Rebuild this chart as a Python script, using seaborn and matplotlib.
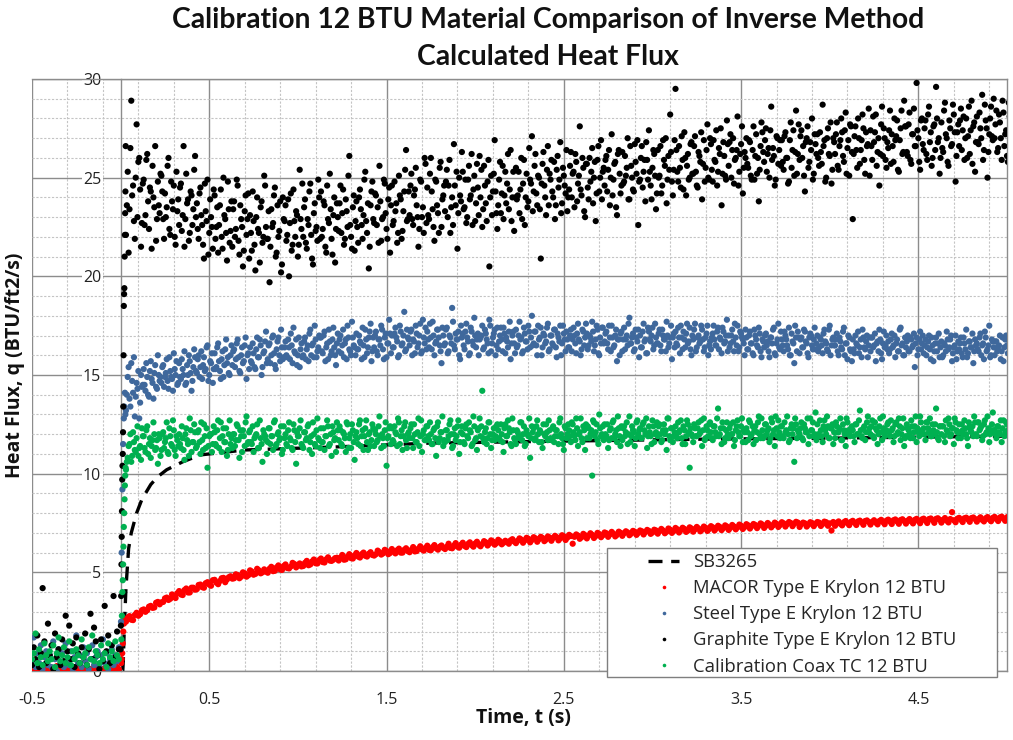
import numpy as np
import pandas as pd
import matplotlib
matplotlib.use("Agg")
import matplotlib.pyplot as plt
from matplotlib.lines import Line2D
from matplotlib.patches import Rectangle
from matplotlib.ticker import FixedLocator, MultipleLocator
import seaborn as sns

# ---------------- data ----------------
series_names = ["MACOR Type E Krylon 12 BTU", "Steel Type E Krylon 12 BTU",
                "Graphite Type E Krylon 12 BTU", "Calibration Coax TC 12 BTU"]
series_colors = ["#FF0000", "#3F689C", "#000000", "#00B050"]

# sampling of the recorded traces (s)
pre_start, pre_step = -0.50, 0.01
post_start = 0.03          # first record of every gauge
post_start_b = 0.035       # second interleaved record (steel, graphite, coax)
post_start_red_b = 0.04    # second interleaved record (MACOR)
post_step_fine = 0.01      # steel, graphite, coax
post_step_red = 0.02       # MACOR

# pre-trigger values
macor_pre = [0.05, 0.12, 0.02, 0.18, 0.08, 0.00, 0.15, 0.06, 0.22, 0.03,
             0.10, 0.01, 0.14, 0.07, 0.25, 0.04, 0.11, 0.02, 0.16, 0.08,
             0.00, 0.13, 0.05, 0.20, 0.09, 0.03, 0.17, 0.06, 0.12, 0.01,
             0.08, 0.19, 0.04, 0.10, 0.02, 0.15, 0.07, 0.23, 0.05, 0.11,
             0.03, 0.14, 0.08, 0.01, 0.18, 0.06, 0.12, 0.04, 0.20, 0.09]
steel_pre = [0.5, 1.7, 0.2, 0.9, 0.4, 1.3, 0.1, 0.7, 1.0, 0.3,
             0.8, 0.2, 1.5, 0.6, 0.0, 1.1, 0.4, 0.9, 0.2, 1.4,
             0.6, 0.3, 1.0, 0.1, 0.7, 1.8, 0.4, 0.8, 0.2, 1.2,
             0.5, 0.9, 0.1, 0.6, 1.3, 0.3, 0.7, 1.0, 0.2, 0.8,
             1.6, 0.4, 0.9, 0.1, 0.6, 1.1, 0.3, 0.8, 0.5, 1.2]
graphite_pre = [0.3, 1.2, 0.6, 1.8, 0.2, 0.9, 4.2, 1.5, 0.4, 2.4,
                0.8, 1.3, 0.1, 1.9, 0.7, 1.1, 0.3, 1.6, 0.5, 2.8,
                1.0, 2.3, 0.6, 1.4, 0.2, 1.7, 0.9, 0.4, 1.2, 0.7,
                1.9, 0.3, 1.1, 2.9, 0.6, 2.2, 1.5, 0.8, 0.1, 1.6,
                0.5, 3.3, 1.0, 1.8, 0.4, 1.3, 3.8, 0.7, 2.0, 1.1]
coax_pre = [0.6, 0.9, 1.9, 0.4, 1.1, 0.7, 0.3, 1.4, 0.8, 0.5,
            1.0, 0.6, 1.3, 0.2, 0.9, 1.7, 0.5, 0.8, 1.2, 0.4,
            0.7, 1.5, 0.3, 1.0, 0.6, 1.1, 0.8, 0.4, 1.6, 0.7,
            0.9, 0.3, 1.2, 0.6, 1.8, 0.5, 1.0, 0.8, 0.4, 1.3,
            0.6, 0.9, 0.2, 1.4, 0.7, 1.0, 0.5, 1.5, 0.8, 0.6]

# step-rise points (time, value)
macor_rise_t = [0.003, 0.006, 0.009, 0.012, 0.015, 0.018, 0.021]
macor_rise = [0.4, 0.6, 0.9, 1.4, 2.0, 2.4, 2.6]
steel_rise_t = [0.002, 0.006, 0.010, 0.014, 0.018, 0.021, 0.024, 0.027]
steel_rise = [2.5, 6.0, 9.2, 11.5, 12.8, 13.4, 14.1, 13.0]
graphite_rise_t = [0.000, 0.0015, 0.003, 0.0045, 0.006, 0.0075, 0.009, 0.0105,
                   0.012, 0.0135, 0.015, 0.0165, 0.018, 0.0195, 0.021, 0.0225,
                   0.024, 0.0255, 0.027, 0.0285]
graphite_rise = [1.1, 2.3, 3.8, 5.4, 6.8, 8.1, 9.7, 10.4, 11.0, 12.1,
                 13.4, 16.0, 18.5, 19.1, 19.4, 21.0, 22.1, 23.2, 24.3, 26.6]
coax_rise_t = [0.004, 0.007, 0.010, 0.012, 0.014, 0.016, 0.018, 0.020,
               0.022, 0.024, 0.026, 0.028]
coax_rise = [1.6, 2.8, 4.0, 4.6, 5.4, 6.3, 7.3, 8.0, 8.7, 9.4, 9.9, 10.3]

# post-trigger values
macor_post = [
    2.50, 2.78, 2.58, 2.95, 2.88, 3.12, 3.08, 3.30, 3.22, 3.50,
    3.48, 3.68, 3.60, 3.88, 3.70, 4.05, 3.85, 4.18, 3.98, 4.22,
    4.15, 4.38, 4.22, 4.50, 4.32, 4.62, 4.40, 4.70, 4.50, 4.75,
    4.68, 4.90, 4.70, 5.00, 4.78, 5.10, 4.88, 5.18, 4.95, 5.15,
    4.98, 5.28, 5.08, 5.35, 5.12, 5.40, 5.20, 5.48, 5.25, 5.45,
    5.32, 5.58, 5.40, 5.65, 5.45, 5.70, 5.50, 5.76, 5.58, 5.72,
    5.60, 5.88, 5.66, 5.92, 5.70, 5.98, 5.75, 6.00, 5.80, 6.02,
    5.85, 6.10, 5.90, 6.14, 5.92, 6.18, 5.96, 6.20, 6.00, 6.22,
    6.02, 6.28, 6.08, 6.32, 6.10, 6.35, 6.12, 6.38, 6.15, 6.36,
    6.18, 6.45, 6.22, 6.48, 6.25, 6.50, 6.28, 6.52, 6.30, 6.55,
    6.32, 6.58, 6.36, 6.62, 6.40, 6.65, 6.42, 6.60, 6.45, 6.68,
    6.48, 6.72, 6.50, 6.75, 6.52, 6.78, 6.55, 6.80, 6.58, 6.82,
    6.60, 6.85, 6.62, 6.88, 6.64, 6.90, 6.45, 6.92, 6.70, 6.95,
    6.72, 6.98, 6.74, 7.00, 6.78, 7.02, 6.80, 7.05, 6.82, 7.06,
    6.85, 7.08, 6.88, 7.10, 6.90, 7.12, 6.92, 7.15, 6.95, 7.16,
    6.96, 7.20, 6.98, 7.22, 7.00, 7.25, 7.02, 7.26, 7.05, 7.28,
    7.06, 7.30, 7.08, 7.32, 7.10, 7.34, 7.12, 7.36, 7.14, 7.38,
    7.15, 7.40, 7.18, 7.42, 7.20, 7.44, 7.22, 7.45, 7.24, 7.48,
    7.25, 7.50, 7.28, 7.52, 7.30, 7.54, 7.32, 7.55, 7.34, 7.56,
    7.30, 7.52, 7.32, 7.54, 7.34, 7.55, 7.35, 7.57, 7.36, 7.12,
    7.36, 7.58, 7.38, 7.60, 7.39, 7.61, 7.40, 7.62, 7.41, 7.63,
    7.42, 7.64, 7.43, 7.66, 7.44, 7.67, 7.45, 7.68, 7.46, 7.69,
    7.47, 7.70, 7.48, 7.71, 7.49, 7.72, 7.50, 7.73, 7.51, 7.74,
    7.52, 7.75, 7.53, 8.05, 7.54, 7.76, 7.55, 7.77, 7.56, 7.78,
    7.57, 7.79, 7.58, 7.80, 7.59, 7.81, 7.60, 7.82, 7.61, 7.83]

macor_post_b = [
    2.70, 2.60, 2.84, 2.80, 3.08, 3.00, 3.26, 3.20, 3.46, 3.38,
    3.50, 3.72, 3.66, 3.76, 3.94, 3.88, 4.10, 3.98, 4.22, 4.12,
    4.36, 4.25, 4.45, 4.38, 4.60, 4.48, 4.56, 4.72, 4.64, 4.80,
    4.70, 4.86, 4.78, 4.95, 4.85, 5.04, 4.92, 5.10, 5.00, 5.04,
    5.18, 5.06, 5.25, 5.15, 5.32, 5.22, 5.30, 5.42, 5.36, 5.30,
    5.48, 5.36, 5.55, 5.46, 5.62, 5.52, 5.66, 5.60, 5.64, 5.74,
    5.74, 5.64, 5.80, 5.72, 5.86, 5.80, 5.92, 5.84, 5.94, 5.88,
    5.92, 6.02, 5.96, 6.08, 5.98, 6.06, 6.12, 6.00, 6.14, 6.08,
    6.14, 6.06, 6.20, 6.16, 6.24, 6.14, 6.28, 6.22, 6.30, 6.24,
    6.30, 6.24, 6.36, 6.30, 6.40, 6.34, 6.44, 6.38, 6.46, 6.40,
    6.44, 6.52, 6.46, 6.56, 6.48, 6.58, 6.50, 6.54, 6.62, 6.56,
    6.60, 6.66, 6.62, 6.70, 6.64, 6.72, 6.68, 6.74, 6.66, 6.76,
    6.74, 6.78, 6.72, 6.82, 6.76, 6.84, 6.80, 6.86, 6.78, 6.88,
    6.86, 6.90, 6.84, 6.94, 6.88, 6.98, 6.92, 6.96, 6.90, 7.00,
    6.98, 7.02, 6.96, 7.06, 7.00, 7.08, 7.04, 7.10, 7.02, 7.12,
    7.08, 7.12, 7.06, 7.16, 7.10, 7.18, 7.14, 7.20, 7.12, 7.22,
    7.18, 7.22, 7.16, 7.26, 7.20, 7.28, 7.22, 7.30, 7.24, 7.32,
    7.26, 7.32, 7.28, 7.36, 7.30, 7.38, 7.34, 7.40, 7.36, 7.42,
    7.36, 7.42, 7.38, 7.46, 7.40, 7.48, 7.44, 7.50, 7.46, 7.52,
    7.44, 7.48, 7.42, 7.50, 7.46, 7.52, 7.45, 7.54, 7.48, 7.55,
    7.50, 7.46, 7.54, 7.49, 7.56, 7.51, 7.58, 7.53, 7.60, 7.55,
    7.56, 7.52, 7.60, 7.55, 7.62, 7.57, 7.64, 7.58, 7.65, 7.60,
    7.62, 7.58, 7.66, 7.60, 7.68, 7.62, 7.70, 7.64, 7.71, 7.66,
    7.66, 7.62, 7.70, 7.64, 7.72, 7.66, 7.74, 7.68, 7.75, 7.70,
    7.70, 7.66, 7.74, 7.68, 7.76, 7.70, 7.78, 7.72, 7.79, 7.74]

steel_post = [
    13.2, 14.9, 13.8, 15.6, 14.1, 12.9, 14.6, 15.2, 13.6, 14.4,
    15.3, 14.2, 14.9, 13.9, 15.7, 14.6, 15.1, 14.4, 16.0, 14.7,
    14.6, 15.5, 14.9, 15.8, 14.3, 15.2, 14.8, 16.1, 15.0, 14.5,
    15.6, 14.8, 15.3, 16.2, 14.6, 15.0, 15.7, 14.2, 15.4, 15.9,
    15.1, 16.0, 15.4, 14.8, 15.9, 15.3, 16.5, 15.0, 15.6, 14.6,
    16.1, 15.4, 16.6, 15.2, 15.8, 14.9, 16.3, 15.6, 15.1, 16.0,
    15.5, 16.3, 15.8, 16.8, 15.2, 16.0, 15.6, 16.5, 14.8, 16.1,
    16.4, 15.6, 16.1, 15.3, 16.9, 15.9, 16.5, 15.4, 16.2, 17.2,
    15.8, 16.6, 16.0, 17.0, 15.5, 16.3, 16.9, 15.7, 16.4, 15.9,
    16.7, 15.9, 16.4, 17.1, 15.6, 16.2, 16.8, 16.0, 15.4, 16.6,
    16.0, 16.9, 16.3, 15.7, 17.3, 16.5, 15.9, 16.8, 16.2, 17.0,
    16.9, 16.1, 17.2, 16.4, 15.8, 16.7, 16.2, 17.4, 16.0, 16.6,
    16.2, 17.0, 16.5, 15.9, 16.8, 17.5, 16.3, 16.0, 16.9, 16.4,
    17.1, 16.3, 16.7, 15.8, 16.5, 17.3, 16.1, 16.9, 17.6, 16.2,
    16.4, 17.2, 16.0, 16.8, 17.5, 16.3, 16.9, 15.9, 16.6, 17.1,
    17.0, 16.4, 17.4, 16.7, 16.0, 17.2, 16.6, 18.2, 16.3, 16.9,
    16.5, 17.3, 16.8, 16.1, 17.1, 16.6, 17.6, 16.2, 16.9, 17.4,
    17.2, 16.4, 16.9, 17.7, 16.0, 16.7, 17.3, 16.5, 15.6, 17.0,
    16.6, 17.4, 16.2, 16.9, 18.4, 16.5, 17.1, 16.8, 16.0, 17.5,
    17.1, 16.3, 17.6, 16.7, 16.1, 17.2, 16.5, 17.0, 16.8, 16.0,
    16.9, 17.5, 16.4, 17.1, 16.6, 17.8, 16.2, 16.9, 17.3, 16.5,
    16.3, 17.0, 16.8, 17.4, 16.1, 16.7, 17.2, 15.8, 17.0, 16.6,
    17.3, 16.5, 17.7, 16.9, 16.2, 17.1, 16.7, 17.5, 16.4, 18.0,
    16.6, 17.2, 16.0, 16.8, 17.4, 16.4, 17.0, 16.7, 17.6, 16.3,
    17.0, 16.5, 17.3, 15.9, 16.9, 17.5, 16.6, 17.1, 16.2, 16.8,
    16.4, 17.3, 16.8, 17.0, 16.1, 17.6, 16.7, 16.3, 17.2, 16.9,
    17.1, 16.5, 16.9, 17.7, 16.2, 16.8, 17.3, 16.0, 16.6, 17.4,
    16.7, 17.2, 16.3, 16.9, 17.5, 16.4, 17.0, 15.7, 16.8, 17.1,
    16.2, 17.4, 16.8, 16.5, 17.9, 16.6, 17.1, 16.3, 16.9, 17.3,
    17.0, 16.4, 17.6, 16.8, 16.1, 17.2, 16.7, 17.4, 16.5, 16.9,
    16.6, 17.3, 16.2, 17.0, 16.8, 17.7, 16.4, 16.9, 15.8, 17.1,
    17.2, 16.5, 16.9, 17.5, 16.3, 16.8, 17.1, 16.6, 17.4, 16.0,
    16.8, 17.6, 16.4, 17.0, 16.7, 17.3, 16.2, 16.9, 17.5, 16.5,
    16.3, 17.1, 16.8, 16.5, 17.4, 16.9, 16.1, 17.2, 16.7, 17.8,
    17.0, 16.6, 17.3, 16.2, 16.9, 17.5, 16.4, 17.1, 16.8, 16.0,
    16.9, 16.3, 17.2, 16.6, 16.0, 17.0, 16.5, 17.4, 16.2, 16.8,
    16.4, 17.1, 16.7, 15.9, 16.9, 17.3, 16.1, 16.6, 17.6, 16.3,
    16.8, 16.2, 17.0, 16.5, 17.4, 16.0, 16.7, 15.6, 16.9, 17.2,
    16.1, 16.9, 16.4, 17.2, 16.6, 15.9, 17.1, 16.5, 16.8, 16.3,
    17.0, 16.4, 16.8, 16.1, 17.3, 16.6, 16.2, 17.5, 16.5, 16.9,
    16.5, 17.1, 16.0, 16.7, 16.3, 17.4, 16.6, 15.8, 16.9, 16.2,
    16.8, 16.1, 16.6, 17.2, 16.4, 15.9, 16.9, 16.3, 17.0, 16.5,
    16.2, 16.9, 16.5, 15.7, 16.7, 17.3, 16.1, 16.6, 16.4, 17.0,
    16.7, 16.3, 17.1, 16.5, 15.9, 16.8, 16.2, 17.4, 16.6, 16.0,
    16.4, 17.0, 16.2, 16.8, 16.5, 15.4, 16.9, 16.3, 17.2, 16.6,
    16.1, 16.8, 16.4, 17.0, 15.8, 16.5, 16.2, 16.9, 16.6, 15.9,
    16.7, 16.0, 16.5, 17.2, 16.3, 16.8, 15.7, 16.4, 17.0, 16.2,
    16.3, 16.9, 15.9, 16.6, 17.3, 16.1, 16.7, 16.4, 15.6, 16.8,
    16.6, 16.2, 17.1, 16.5, 15.8, 16.9, 16.3, 17.5, 16.0, 16.7,
    16.0, 16.7, 16.4, 17.0, 16.2, 15.7, 16.8, 16.5, 16.1, 16.9]

steel_post_b = [
    14.0, 15.4, 13.4, 14.7, 15.9, 13.9, 14.3, 12.8, 15.0, 14.5,
    14.5, 15.6, 14.0, 15.2, 14.8, 13.8, 15.5, 14.3, 15.0, 14.9,
    15.4, 14.4, 15.1, 14.7, 15.9, 14.9, 14.2, 15.3, 15.7, 14.6,
    14.9, 15.8, 15.0, 14.5, 15.5, 16.0, 15.1, 14.7, 16.3, 15.2,
    15.8, 14.9, 16.2, 15.5, 15.2, 16.4, 14.7, 15.7, 16.1, 15.3,
    15.3, 16.4, 15.7, 14.8, 16.2, 15.5, 16.8, 15.9, 15.0, 16.5,
    16.2, 15.4, 16.6, 15.9, 15.1, 16.4, 15.7, 16.9, 16.0, 15.3,
    15.7, 16.6, 15.4, 16.3, 15.9, 16.8, 15.0, 16.1, 16.7, 15.6,
    16.5, 15.6, 16.9, 16.1, 15.3, 16.7, 16.0, 17.3, 15.8, 16.4,
    16.0, 16.8, 15.8, 16.5, 17.4, 16.1, 15.5, 16.9, 16.3, 15.9,
    16.7, 15.8, 16.5, 17.1, 16.0, 16.6, 17.5, 15.9, 16.4, 16.9,
    16.2, 17.0, 15.7, 16.6, 17.3, 16.0, 16.8, 16.4, 15.5, 17.1,
    16.8, 16.1, 17.3, 16.6, 15.8, 16.9, 16.2, 17.7, 16.5, 16.0,
    16.3, 17.0, 16.6, 17.4, 15.9, 16.8, 16.4, 17.2, 15.7, 16.9,
    17.0, 16.2, 16.8, 16.5, 17.3, 15.8, 17.1, 16.6, 17.8, 16.1,
    16.4, 17.1, 16.9, 15.9, 17.5, 16.5, 17.0, 16.2, 17.3, 16.8,
    17.2, 16.0, 16.7, 17.5, 16.4, 17.0, 16.1, 17.8, 16.6, 16.3,
    16.8, 17.6, 16.3, 17.0, 16.6, 17.3, 16.9, 16.2, 17.4, 16.5,
    17.3, 16.1, 17.0, 16.6, 17.7, 16.3, 16.8, 17.2, 15.8, 16.9,
    16.5, 17.2, 16.9, 16.0, 17.4, 16.7, 17.9, 16.4, 17.1, 16.8,
    17.0, 16.3, 17.3, 16.8, 16.1, 17.5, 16.6, 17.1, 16.0, 17.4,
    16.7, 17.4, 16.2, 17.1, 16.9, 16.4, 17.7, 16.6, 17.2, 16.1,
    16.4, 17.0, 16.8, 16.1, 17.4, 16.7, 16.3, 17.2, 16.9, 16.5,
    17.2, 16.5, 17.5, 16.9, 16.0, 17.1, 16.6, 17.4, 16.2, 17.0,
    16.6, 17.3, 16.4, 17.1, 16.7, 16.0, 17.5, 16.8, 17.2, 16.4,
    17.0, 16.2, 17.4, 16.6, 17.1, 16.8, 16.0, 17.3, 16.5, 17.6,
    16.3, 17.0, 16.7, 17.2, 16.5, 17.5, 16.1, 16.9, 17.4, 16.6,
    17.1, 16.6, 17.5, 16.2, 16.9, 16.5, 17.3, 16.8, 16.0, 17.2,
    16.8, 16.3, 17.0, 17.6, 16.6, 16.9, 16.2, 17.3, 16.7, 15.9,
    16.4, 17.2, 16.7, 16.1, 17.4, 16.8, 17.0, 16.3, 17.6, 16.6,
    17.1, 16.5, 17.3, 16.8, 16.2, 17.0, 16.6, 17.5, 16.9, 16.4,
    16.6, 17.4, 16.1, 16.9, 17.2, 16.4, 17.6, 16.7, 16.3, 17.0,
    17.3, 16.2, 16.9, 16.6, 17.5, 16.8, 16.4, 17.1, 16.0, 16.7,
    16.9, 17.5, 16.5, 17.2, 16.3, 16.8, 17.4, 16.6, 17.0, 16.2,
    16.4, 17.0, 16.7, 17.6, 16.5, 16.2, 17.2, 16.9, 16.6, 17.3,
    16.3, 17.0, 16.6, 16.1, 17.3, 16.8, 16.4, 17.1, 15.9, 16.7,
    17.0, 16.5, 16.2, 16.9, 16.6, 17.4, 16.0, 16.8, 16.4, 17.2,
    16.5, 17.2, 16.8, 16.3, 16.0, 17.1, 16.6, 17.5, 16.2, 16.9,
    16.8, 16.4, 17.3, 16.7, 16.1, 16.9, 17.0, 16.3, 17.4, 16.6,
    16.2, 16.9, 16.5, 17.1, 16.7, 16.3, 17.3, 16.0, 16.8, 16.5,
    16.8, 16.2, 16.9, 16.4, 17.2, 16.0, 16.6, 17.0, 16.3, 15.7,
    16.3, 17.0, 16.5, 16.1, 16.8, 17.3, 16.4, 16.7, 15.9, 16.9,
    16.9, 16.4, 17.1, 16.6, 16.2, 16.8, 15.8, 17.2, 16.5, 16.3,
    16.1, 16.8, 16.4, 17.0, 16.6, 16.2, 17.3, 16.5, 16.0, 16.9,
    16.7, 16.2, 16.9, 16.4, 17.1, 16.6, 16.0, 16.8, 16.3, 17.0,
    16.5, 16.0, 16.7, 16.3, 16.9, 15.7, 16.6, 16.2, 17.1, 16.4,
    15.9, 16.6, 16.2, 16.8, 16.4, 17.0, 16.1, 16.5, 15.8, 16.7,
    16.6, 16.1, 16.9, 16.3, 15.9, 16.7, 16.4, 17.1, 16.2, 16.5,
    16.3, 16.9, 16.0, 16.6, 17.2, 16.2, 16.5, 15.9, 16.8, 16.4,
    16.7, 16.2, 16.5, 15.8, 16.9, 16.4, 17.0, 16.1, 16.6, 16.3]

graphite_post = [
    22.1, 25.3, 23.4, 28.9, 24.6, 21.9, 27.7, 25.8, 24.4, 22.7,
    24.9, 23.1, 26.2, 22.4, 24.3, 25.6, 23.5, 21.8, 24.8, 23.2,
    25.1, 22.9, 24.2, 23.5, 26.0, 22.1, 23.8, 24.6, 21.6, 23.3,
    22.6, 24.7, 23.1, 21.5, 25.2, 23.9, 22.2, 24.1, 23.4, 26.1,
    23.7, 21.9, 24.5, 22.6, 20.9, 23.3, 24.9, 22.2, 23.0, 21.4,
    24.1, 22.5, 21.2, 23.6, 22.0, 25.0, 22.9, 20.8, 23.4, 22.3,
    21.5, 23.8, 22.4, 24.6, 21.1, 22.9, 20.5, 23.3, 22.1, 24.2,
    23.1, 21.3, 22.8, 20.3, 24.0, 22.2, 23.5, 21.7, 25.1, 22.5,
    21.9, 19.7, 23.4, 22.7, 24.5, 21.2, 22.0, 23.8, 20.6, 22.9,
    23.6, 22.1, 20.0, 24.2, 21.6, 22.8, 23.3, 21.0, 25.4, 22.4,
    22.0, 23.9, 21.4, 22.6, 24.7, 20.9, 23.2, 22.3, 21.8, 24.0,
    24.3, 22.4, 23.6, 21.2, 22.9, 25.2, 21.9, 23.1, 20.7, 23.7,
    22.3, 24.6, 23.2, 21.6, 23.9, 22.5, 26.1, 22.0, 23.5, 21.3,
    23.8, 21.7, 24.4, 22.6, 23.1, 25.3, 22.2, 20.4, 23.6, 24.8,
    22.7, 24.1, 23.5, 25.6, 21.8, 23.0, 24.7, 22.4, 23.9, 21.2,
    24.6, 22.8, 23.3, 21.7, 25.1, 23.9, 22.3, 24.3, 26.4, 22.9,
    23.1, 25.2, 22.6, 24.4, 23.6, 21.5, 24.9, 23.0, 22.2, 25.7,
    24.5, 22.9, 26.0, 23.4, 21.8, 24.8, 23.2, 25.5, 22.5, 24.1,
    23.3, 25.4, 24.6, 22.2, 24.0, 26.7, 23.6, 21.4, 25.0, 23.8,
    25.3, 23.5, 22.7, 24.9, 23.9, 26.2, 24.4, 22.8, 25.7, 23.1,
    24.0, 22.5, 25.6, 23.7, 24.8, 20.5, 25.1, 24.3, 26.9, 23.2,
    23.6, 25.8, 24.2, 22.9, 25.3, 24.7, 23.4, 26.4, 24.0, 22.3,
    25.5, 24.1, 23.2, 26.0, 24.7, 22.6, 25.2, 23.8, 24.9, 27.1,
    24.3, 26.2, 23.6, 25.0, 20.9, 25.7, 24.6, 23.1, 26.6, 25.2,
    25.9, 24.0, 22.9, 25.4, 24.5, 26.8, 23.7, 25.1, 24.2, 23.3,
    24.4, 26.3, 25.2, 23.5, 25.8, 24.7, 27.6, 24.1, 25.5, 23.0,
    25.7, 23.9, 24.8, 26.5, 25.0, 22.8, 25.9, 24.3, 26.9, 25.3,
    24.6, 26.1, 25.4, 23.6, 27.2, 24.9, 25.8, 23.1, 26.4, 24.2,
    26.3, 24.8, 25.1, 27.0, 23.9, 25.6, 24.4, 26.7, 25.2, 22.6,
    24.9, 26.6, 25.3, 23.8, 25.9, 27.4, 24.6, 25.5, 26.2, 23.4,
    26.4, 25.1, 24.2, 26.9, 25.6, 23.7, 26.1, 28.2, 24.8, 25.4,
    29.5, 25.3, 26.6, 24.5, 25.9, 27.3, 24.1, 26.2, 25.0, 26.8,
    25.2, 27.1, 24.6, 26.3, 25.8, 23.9, 26.9, 25.5, 27.7, 24.9,
    26.7, 24.8, 25.9, 27.4, 25.3, 26.2, 23.6, 26.8, 25.1, 27.9,
    25.6, 27.2, 26.4, 24.7, 26.0, 28.1, 25.3, 26.7, 24.2, 26.3,
    27.0, 25.5, 26.8, 24.9, 27.6, 26.1, 25.2, 23.8, 26.6, 27.3,
    25.8, 27.5, 26.2, 25.0, 28.6, 26.5, 24.6, 27.1, 25.7, 26.9,
    26.9, 25.4, 27.3, 26.0, 24.8, 27.8, 26.4, 25.1, 28.4, 26.2,
    25.9, 27.4, 26.6, 24.3, 27.0, 25.5, 26.8, 28.0, 25.2, 26.7,
    27.2, 25.6, 26.3, 28.7, 26.9, 25.0, 27.5, 26.1, 24.7, 27.0,
    26.2, 27.8, 25.4, 26.9, 27.3, 25.8, 28.3, 26.5, 25.1, 27.6,
    22.9, 27.1, 26.4, 28.0, 25.7, 26.9, 27.5, 25.2, 26.6, 28.5,
    27.4, 25.9, 26.8, 28.2, 26.3, 24.6, 27.7, 26.1, 27.0, 25.5,
    26.5, 28.4, 27.2, 25.8, 26.9, 27.9, 25.3, 27.5, 26.2, 28.9,
    27.6, 26.1, 28.3, 25.7, 27.2, 26.6, 29.8, 27.0, 25.4, 28.0,
    26.4, 27.9, 25.9, 28.6, 27.3, 26.0, 27.7, 29.6, 26.8, 25.2,
    27.8, 26.3, 28.8, 27.0, 25.6, 27.5, 26.7, 28.2, 24.8, 27.3,
    26.6, 28.5, 27.4, 25.9, 28.0, 27.1, 26.2, 28.9, 27.6, 25.3,
    28.1, 26.7, 27.5, 29.2, 26.4, 27.9, 25.0, 27.2, 28.6, 26.9,
    27.0, 28.4, 26.5, 27.8, 25.9, 28.3, 27.2, 26.1, 28.8, 27.4]

graphite_post_b = [
    23.6, 21.2, 26.5, 24.1, 22.8, 25.0, 23.0, 26.0, 21.5, 24.7,
    22.6, 25.9, 23.8, 24.5, 21.4, 24.0, 26.6, 22.9, 23.6, 25.2,
    24.3, 21.9, 23.0, 25.6, 22.4, 24.8, 23.4, 22.0, 25.3, 23.9,
    24.5, 22.3, 26.6, 22.9, 23.7, 21.8, 24.3, 22.6, 25.4, 23.0,
    22.4, 24.2, 23.1, 21.6, 24.7, 22.8, 21.1, 23.9, 22.5, 24.4,
    21.9, 23.5, 22.6, 24.4, 21.4, 23.1, 22.2, 24.8, 21.7, 23.8,
    23.4, 22.0, 24.9, 21.8, 23.6, 22.5, 21.3, 24.1, 22.9, 20.9,
    22.2, 24.3, 21.6, 23.0, 22.4, 20.7, 23.8, 22.0, 24.6, 21.9,
    23.3, 21.5, 22.5, 24.1, 21.0, 23.6, 22.3, 20.2, 24.0, 22.8,
    21.8, 23.9, 22.7, 21.3, 24.4, 22.0, 23.1, 21.6, 22.9, 24.7,
    23.5, 21.7, 22.9, 24.3, 22.1, 20.6, 23.7, 22.5, 24.9, 21.9,
    22.0, 23.8, 21.5, 24.6, 22.7, 23.4, 21.1, 24.0, 22.4, 23.0,
    23.7, 22.2, 24.4, 21.9, 23.3, 25.1, 22.6, 21.4, 24.1, 22.8,
    22.5, 24.0, 23.4, 21.9, 24.9, 22.8, 23.7, 21.5, 24.3, 22.9,
    24.2, 22.6, 21.7, 23.8, 22.9, 24.9, 23.2, 21.9, 24.5, 23.6,
    22.6, 24.8, 23.7, 22.2, 24.1, 21.9, 23.3, 25.4, 22.8, 24.3,
    24.6, 22.9, 24.1, 25.5, 23.0, 22.4, 24.8, 23.5, 26.0, 22.7,
    23.1, 25.2, 24.3, 22.5, 24.9, 23.6, 22.2, 25.8, 23.9, 24.6,
    24.8, 23.0, 25.9, 23.5, 22.6, 24.6, 25.3, 23.2, 24.1, 26.3,
    23.4, 24.9, 23.0, 25.6, 24.1, 22.6, 25.1, 23.7, 24.5, 26.1,
    25.4, 23.4, 24.6, 22.8, 25.9, 24.0, 23.1, 25.2, 24.3, 22.4,
    24.9, 23.2, 25.6, 24.1, 23.7, 26.2, 24.4, 22.8, 25.3, 24.0,
    23.9, 25.3, 24.4, 22.9, 25.9, 24.0, 23.5, 26.5, 24.7, 23.3,
    25.6, 24.2, 25.1, 23.4, 24.7, 26.3, 24.0, 25.4, 23.6, 24.9,
    24.3, 25.8, 23.6, 26.1, 24.9, 23.2, 25.5, 24.6, 26.4, 24.0,
    25.6, 24.0, 25.3, 26.2, 23.8, 25.1, 24.4, 26.0, 23.3, 25.7,
    24.5, 26.0, 25.3, 23.7, 25.8, 24.2, 26.6, 25.0, 23.9, 25.5,
    25.9, 24.3, 26.4, 25.0, 24.1, 25.7, 23.5, 26.2, 25.2, 24.6,
    24.7, 26.1, 25.5, 23.9, 26.6, 25.0, 24.3, 25.8, 26.9, 24.8,
    26.0, 24.5, 25.9, 26.8, 24.9, 25.3, 23.9, 26.4, 25.1, 24.2,
    25.0, 26.6, 24.6, 25.9, 27.0, 24.9, 25.4, 26.3, 24.1, 26.9,
    26.4, 24.8, 25.5, 27.1, 24.4, 26.0, 25.6, 24.9, 26.7, 25.2,
    26.6, 25.3, 24.5, 26.1, 27.3, 25.7, 24.8, 26.4, 25.0, 27.0,
    25.4, 26.9, 25.8, 24.6, 26.5, 27.5, 25.2, 26.1, 24.9, 26.7,
    26.8, 25.0, 27.0, 25.9, 26.4, 24.6, 26.2, 27.6, 25.5, 26.0,
    25.7, 26.9, 25.1, 26.4, 24.9, 27.2, 26.0, 25.4, 27.8, 26.3,
    26.9, 25.3, 26.5, 27.4, 25.9, 26.1, 24.9, 27.0, 26.4, 25.6,
    25.8, 27.1, 26.0, 24.7, 26.9, 25.5, 27.4, 26.3, 25.2, 27.7,
    27.1, 26.0, 25.1, 26.8, 27.6, 25.8, 26.4, 24.9, 27.2, 26.2,
    26.0, 27.3, 25.7, 26.6, 24.8, 27.0, 26.2, 27.8, 25.4, 26.8,
    27.2, 25.6, 26.6, 28.0, 26.1, 27.4, 25.2, 26.9, 27.7, 26.3,
    26.2, 27.6, 25.5, 27.0, 26.4, 28.2, 25.9, 27.3, 26.7, 25.1,
    26.6, 28.1, 27.3, 25.6, 27.0, 26.2, 28.6, 27.5, 25.9, 26.8,
    27.4, 25.7, 26.6, 28.0, 27.1, 25.4, 26.9, 28.4, 26.3, 27.6,
    26.3, 27.7, 25.9, 27.2, 28.5, 26.6, 27.4, 25.8, 27.9, 26.7,
    27.5, 26.2, 28.2, 26.8, 25.6, 27.6, 26.4, 28.0, 27.0, 26.0,
    26.5, 28.4, 27.2, 25.8, 27.9, 26.6, 28.7, 27.3, 26.1, 27.7,
    27.9, 26.4, 28.1, 27.0, 26.0, 28.6, 27.4, 25.7, 27.8, 26.8,
    26.8, 28.3, 27.0, 25.9, 28.7, 27.5, 26.3, 28.0, 27.1, 29.0,
    27.7, 26.3, 28.2, 27.0, 28.9, 26.6, 27.4, 25.8, 28.1, 27.2]

coax_post = [
    10.2, 10.8, 11.5, 10.6, 12.1, 11.2, 11.8, 10.9, 11.4, 12.3,
    11.9, 11.1, 12.4, 11.5, 10.8, 11.7, 12.0, 11.3, 10.5, 11.8,
    11.2, 12.1, 11.6, 12.6, 11.0, 11.9, 11.4, 12.2, 10.9, 11.7,
    12.0, 11.3, 11.8, 10.7, 12.3, 11.5, 12.8, 11.1, 11.6, 12.1,
    11.4, 12.2, 11.0, 11.7, 12.5, 11.3, 10.3, 11.9, 12.0, 11.5,
    12.1, 11.4, 12.7, 11.8, 11.1, 12.3, 11.6, 10.9, 12.0, 11.5,
    11.3, 12.0, 11.7, 12.4, 10.8, 11.9, 12.2, 11.4, 12.9, 11.6,
    12.2, 11.5, 11.1, 11.9, 12.5, 11.3, 11.8, 10.6, 12.0, 11.7,
    11.6, 12.3, 11.9, 11.2, 12.7, 11.5, 12.1, 11.8, 11.0, 12.4,
    12.0, 11.4, 12.6, 11.7, 11.2, 12.2, 10.5, 11.9, 12.3, 11.5,
    11.3, 12.1, 11.8, 12.5, 11.6, 11.0, 12.0, 11.4, 12.8, 11.7,
    12.3, 11.6, 11.2, 11.9, 12.4, 11.5, 10.9, 12.1, 11.8, 12.6,
    11.7, 12.2, 11.4, 12.0, 11.1, 12.5, 11.8, 11.3, 12.2, 10.7,
    12.1, 11.5, 12.7, 11.9, 11.2, 12.3, 11.6, 12.0, 11.4, 12.5,
    11.4, 12.0, 11.7, 12.9, 11.3, 11.8, 12.2, 10.4, 11.9, 12.4,
    12.3, 11.6, 12.1, 11.4, 12.6, 11.9, 11.2, 12.4, 11.7, 12.0,
    11.8, 12.5, 11.3, 12.0, 11.6, 12.8, 11.9, 11.1, 12.2, 11.7,
    12.4, 11.7, 12.0, 11.5, 12.3, 10.9, 12.6, 11.8, 12.1, 11.4,
    11.6, 12.2, 11.9, 12.7, 11.3, 12.0, 11.7, 12.4, 11.0, 12.1,
    12.0, 11.5, 12.5, 11.8, 12.2, 11.4, 12.9, 11.7, 11.2, 12.3,
    11.9, 14.2, 11.6, 12.3, 11.8, 12.6, 11.3, 12.0, 11.7, 12.4,
    12.2, 11.7, 12.0, 11.1, 12.5, 11.9, 12.3, 11.5, 12.8, 11.8,
    11.5, 12.1, 11.8, 12.6, 12.0, 11.4, 12.2, 11.9, 10.8, 12.4,
    12.3, 11.8, 12.7, 11.6, 12.1, 11.3, 12.0, 12.5, 11.7, 12.2,
    11.7, 12.4, 11.9, 12.2, 11.5, 12.8, 11.8, 11.2, 12.3, 12.0,
    12.2, 11.6, 12.5, 11.9, 12.8, 11.4, 12.1, 11.8, 12.4, 11.2,
    11.8, 12.3, 12.0, 9.9, 12.6, 12.1, 11.7, 13.0, 11.9, 12.4,
    12.5, 11.9, 11.3, 12.2, 11.8, 12.7, 12.0, 11.6, 12.3, 11.4,
    11.7, 12.4, 12.1, 11.5, 12.9, 11.9, 12.2, 11.4, 12.6, 12.0,
    12.3, 11.8, 12.6, 12.0, 11.3, 12.4, 11.9, 12.7, 11.6, 12.1,
    11.9, 12.5, 11.6, 12.2, 12.0, 11.2, 12.8, 11.7, 12.3, 11.9,
    12.4, 11.8, 12.1, 12.7, 11.5, 12.2, 11.9, 12.5, 10.3, 12.0,
    11.6, 12.3, 11.9, 12.6, 12.1, 11.4, 12.8, 11.8, 12.2, 12.5,
    12.1, 11.7, 12.4, 11.9, 13.3, 12.0, 11.5, 12.3, 11.8, 12.6,
    11.8, 12.5, 12.0, 11.4, 12.2, 12.7, 11.9, 12.4, 11.6, 12.1,
    12.3, 11.7, 12.6, 12.0, 11.5, 12.4, 12.1, 12.9, 11.8, 12.2,
    11.9, 12.5, 12.2, 11.6, 12.8, 12.0, 11.4, 12.3, 12.7, 11.8,
    12.4, 11.8, 12.1, 12.9, 11.6, 12.3, 12.0, 10.6, 12.5, 12.2,
    12.0, 12.6, 11.7, 12.3, 12.1, 11.5, 12.8, 12.2, 11.9, 13.1,
    12.5, 11.9, 12.2, 11.6, 12.7, 12.0, 12.4, 11.8, 12.3, 11.5,
    11.8, 12.4, 12.1, 12.8, 11.7, 12.2, 11.4, 12.6, 12.0, 12.3,
    12.2, 11.6, 12.5, 12.0, 13.2, 11.9, 12.3, 11.7, 12.6, 12.1,
    12.0, 12.7, 11.8, 12.3, 11.5, 12.4, 12.1, 12.9, 11.9, 12.2,
    12.6, 11.9, 12.2, 11.6, 12.5, 12.0, 12.8, 11.7, 12.3, 11.4,
    11.9, 12.3, 12.0, 12.7, 11.8, 12.4, 11.6, 12.1, 12.9, 12.2,
    12.3, 11.7, 12.6, 12.1, 11.9, 12.5, 12.0, 13.3, 11.8, 12.4,
    12.0, 12.4, 11.6, 12.2, 12.8, 11.9, 12.3, 11.5, 12.6, 12.1,
    12.5, 11.8, 12.2, 12.7, 12.0, 11.4, 12.4, 12.1, 11.9, 12.6,
    11.9, 12.6, 12.3, 11.7, 12.5, 12.0, 12.9, 11.6, 12.2, 13.1,
    12.2, 11.8, 12.4, 12.0, 11.6, 12.7, 12.1, 12.5, 11.9, 12.3]

coax_post_b = [
    10.6, 11.4, 12.0, 10.9, 11.6, 11.1, 12.4, 11.3, 10.7, 11.9,
    11.3, 12.2, 11.0, 11.8, 11.4, 12.6, 11.2, 11.7, 12.0, 10.9,
    12.0, 11.3, 11.8, 11.1, 12.3, 11.5, 12.7, 11.2, 11.9, 11.4,
    11.5, 12.4, 11.2, 12.0, 11.7, 10.9, 12.2, 11.6, 12.5, 11.3,
    12.1, 11.6, 12.6, 11.2, 11.9, 12.3, 11.4, 12.0, 11.1, 12.4,
    11.5, 12.2, 11.3, 12.6, 11.9, 11.6, 12.3, 11.2, 12.7, 11.8,
    12.0, 11.4, 12.5, 11.7, 12.2, 11.1, 11.9, 12.6, 11.5, 12.1,
    11.6, 12.4, 11.8, 12.0, 11.3, 12.7, 11.5, 12.2, 11.9, 11.0,
    12.3, 11.5, 11.9, 12.6, 11.4, 12.0, 11.7, 12.4, 11.2, 11.8,
    11.5, 12.2, 11.8, 11.3, 12.5, 11.6, 12.1, 11.9, 12.7, 11.4,
    12.1, 11.7, 12.4, 11.2, 11.9, 12.6, 11.5, 12.2, 11.8, 11.3,
    11.6, 12.3, 11.9, 12.7, 11.4, 12.0, 12.4, 11.7, 11.1, 12.2,
    12.4, 11.5, 12.1, 11.8, 12.6, 11.3, 12.0, 12.5, 11.6, 11.9,
    11.8, 12.5, 11.4, 12.2, 11.9, 12.7, 11.2, 12.1, 11.7, 12.3,
    12.2, 11.6, 12.4, 11.9, 12.0, 11.4, 12.6, 11.8, 12.3, 11.5,
    11.7, 12.4, 12.0, 12.8, 11.5, 12.2, 11.9, 12.6, 11.3, 12.1,
    12.3, 11.8, 12.5, 11.6, 12.1, 11.4, 12.7, 12.0, 11.7, 12.4,
    11.9, 12.6, 11.5, 12.2, 11.8, 12.4, 11.6, 12.1, 12.9, 11.7,
    12.2, 11.7, 12.5, 12.0, 11.4, 12.3, 11.9, 12.7, 11.6, 12.4,
    11.6, 12.3, 11.9, 12.6, 12.1, 11.5, 12.4, 11.8, 12.2, 12.8,
    12.4, 11.8, 12.1, 11.5, 12.6, 12.0, 11.7, 12.3, 11.9, 12.5,
    11.8, 12.5, 11.6, 12.3, 11.9, 12.7, 12.1, 11.4, 12.2, 11.7,
    12.2, 11.9, 12.6, 11.7, 12.4, 11.5, 12.0, 12.8, 11.8, 12.1,
    11.7, 12.4, 12.0, 12.2, 11.6, 12.5, 11.9, 12.1, 12.7, 11.8,
    12.3, 11.6, 12.2, 11.9, 12.6, 12.0, 11.5, 12.4, 11.8, 12.5,
    11.9, 12.6, 12.1, 11.7, 12.3, 12.0, 12.8, 11.6, 12.2, 12.5,
    12.4, 11.8, 12.2, 12.7, 11.9, 12.5, 11.5, 12.3, 12.0, 11.7,
    12.0, 12.5, 11.7, 12.3, 12.6, 11.8, 12.2, 12.9, 11.9, 12.4,
    12.3, 11.9, 12.6, 12.0, 11.6, 12.4, 12.1, 11.8, 12.7, 12.2,
    11.8, 12.5, 12.2, 12.8, 11.9, 12.1, 11.5, 12.4, 12.0, 12.6,
    12.4, 12.0, 11.7, 12.5, 12.2, 12.8, 11.9, 12.3, 11.6, 12.1,
    12.0, 12.6, 12.2, 11.8, 12.4, 11.5, 12.7, 12.1, 12.3, 11.9,
    12.5, 11.9, 12.3, 12.0, 12.7, 12.2, 11.7, 12.4, 11.9, 12.6,
    11.8, 12.4, 12.1, 12.8, 11.9, 12.3, 12.6, 11.6, 12.2, 12.0,
    12.3, 12.0, 12.6, 11.7, 12.4, 12.1, 11.9, 12.8, 12.2, 11.6,
    12.1, 12.7, 11.9, 12.4, 12.2, 11.7, 12.6, 12.0, 12.8, 11.8,
    12.5, 12.0, 12.3, 11.8, 12.6, 12.2, 12.9, 11.9, 12.1, 12.4,
    11.9, 12.6, 12.2, 12.0, 11.7, 12.5, 12.3, 12.8, 11.8, 12.1,
    12.3, 11.8, 12.5, 12.1, 12.8, 11.9, 12.2, 12.6, 12.0, 11.7,
    12.0, 12.7, 11.9, 12.4, 12.2, 12.9, 11.8, 12.3, 12.5, 12.1,
    12.6, 12.1, 12.3, 11.7, 12.5, 12.0, 12.8, 12.2, 11.9, 12.4,
    11.9, 12.5, 12.0, 12.7, 12.2, 11.8, 12.4, 12.1, 12.9, 12.3,
    12.4, 11.9, 12.6, 12.2, 12.0, 12.8, 11.7, 12.3, 12.1, 12.5,
    12.1, 12.7, 12.3, 11.9, 12.6, 12.1, 12.4, 12.0, 12.8, 11.8,
    12.5, 12.2, 11.8, 12.4, 12.1, 12.9, 12.3, 11.9, 12.6, 12.0,
    12.0, 12.6, 12.3, 12.8, 11.9, 12.2, 12.5, 12.1, 11.7, 12.4,
    12.4, 11.9, 12.7, 12.1, 12.5, 12.0, 12.3, 12.8, 12.2, 11.8,
    12.1, 12.5, 12.0, 12.3, 11.8, 12.6, 12.2, 12.4, 12.9, 12.0,
    12.6, 12.2, 12.4, 11.9, 12.7, 12.1, 12.3, 12.0, 12.5, 12.2,
    12.0, 12.4, 12.1, 12.7, 12.3, 11.9, 12.6, 12.2, 12.4, 12.8]

# SB3265 reference gauge (dashed line)
sb_t = [-0.50, 0.012, 0.015, 0.020, 0.030, 0.045, 0.060, 0.090, 0.120, 0.170,
        0.210, 0.260, 0.350, 0.450, 0.700, 1.200, 1.750, 2.500, 3.300, 4.000, 5.000]
sb_q = [0.0, 0.0, 0.5, 2.0, 4.2, 6.2, 7.0, 8.0, 8.7, 9.45,
        9.85, 10.2, 10.6, 10.95, 11.2, 11.35, 11.55, 11.65, 11.75, 11.8, 11.9]

x_tick_values = [-0.5, 0.5, 1.5, 2.5, 3.5, 4.5]
x_tick_labels = ["-0.5", "0.5", "1.5", "2.5", "3.5", "4.5"]
y_tick_values = [0, 5, 10, 15, 20, 25, 30]

# ---------------- build long table ----------------
def trace(name, pre, rise_t, rise, post, start, step):
    t_pre = pre_start + pre_step * np.arange(len(pre))
    t_post = start + step * np.arange(len(post))
    t = np.concatenate([t_pre, np.asarray(rise_t, dtype=float), t_post])
    q = np.concatenate([np.asarray(pre, dtype=float), np.asarray(rise, dtype=float),
                        np.asarray(post, dtype=float)])
    return pd.DataFrame({"t": t, "q": q, "series": name})

frames = [
    trace(series_names[0], macor_pre, macor_rise_t, macor_rise, macor_post,
          post_start, post_step_red),
    trace(series_names[0], [], [], [], macor_post_b, post_start_red_b, post_step_red),
    trace(series_names[1], steel_pre, steel_rise_t, steel_rise, steel_post,
          post_start, post_step_fine),
    trace(series_names[1], [], [], [], steel_post_b, post_start_b, post_step_fine),
    trace(series_names[2], graphite_pre, graphite_rise_t, graphite_rise, graphite_post,
          post_start, post_step_fine),
    trace(series_names[2], [], [], [], graphite_post_b, post_start_b, post_step_fine),
    trace(series_names[3], coax_pre, coax_rise_t, coax_rise, coax_post,
          post_start, post_step_fine),
    trace(series_names[3], [], [], [], coax_post_b, post_start_b, post_step_fine),
]
df = pd.concat(frames, ignore_index=True)
sb_df = pd.DataFrame({"t": sb_t, "q": sb_q})

# ---------------- plot ----------------
sns.set_theme(style="white")
plt.rcParams['font.family'] = ['Open Sans', 'DejaVu Sans']

fig = plt.figure(figsize=(10.13, 7.40), dpi=100)
ax = fig.add_axes([32 / 1013, 1 - 671 / 740, 975 / 1013, 592 / 740])

sns.lineplot(data=sb_df, x="t", y="q", ax=ax, color="black", linewidth=2.4,
             linestyle=(0, (4.2, 2.6)), estimator=None, sort=False, zorder=2)

palette = dict(zip(series_names, series_colors))
sns.scatterplot(data=df, x="t", y="q", hue="series", palette=palette,
                hue_order=series_names, s=20, linewidth=0, alpha=1,
                legend=False, ax=ax, zorder=3)

ax.set_xlim(-0.5, 5.0)
ax.set_ylim(0, 30)

# grid
ax.xaxis.set_major_locator(FixedLocator(x_tick_values))
ax.set_xticklabels(x_tick_labels)
minor_x = [round(-0.5 + 0.2 * k, 2) for k in range(1, 28)]
ax.xaxis.set_minor_locator(FixedLocator(minor_x))
ax.yaxis.set_major_locator(FixedLocator(y_tick_values))
ax.yaxis.set_minor_locator(MultipleLocator(1))
ax.set_axisbelow(True)
ax.grid(which="minor", color="#C4C4C4", linewidth=0.8, linestyle=(0, (2.0, 1.5)))
ax.grid(which="major", color="#8C8C8C", linewidth=1.0, linestyle="-")

for side in ["top", "right", "bottom"]:
    ax.spines[side].set_color("#8C8C8C")
    ax.spines[side].set_linewidth(1.0)
ax.spines["left"].set_position(("data", 0))
ax.spines["left"].set_color("#8C8C8C")
ax.spines["left"].set_linewidth(1.0)
ax.spines["left"].set_zorder(1)

ax.tick_params(axis="both", which="both", length=0)
ax.tick_params(axis="x", labelsize=11.5, pad=15, labelcolor="#222222")
ax.tick_params(axis="y", labelsize=11.5, pad=14, labelcolor="#222222")
for lbl in ax.get_yticklabels():
    lbl.set_bbox(dict(facecolor="white", edgecolor="none", pad=1.0))

ax.set_xlabel("")
ax.set_ylabel("")
fig.text(523 / 1013, 1 - 718 / 740, "Time, t (s)", ha="center", va="center",
         fontsize=14, fontweight="bold", color="#111111")
fig.text(15 / 1013, 1 - 365 / 740, "Heat Flux, q (BTU/ft2/s)", ha="center",
         va="center", rotation=90, fontsize=14, fontweight="bold", color="#111111")

# title
fig.text(548 / 1013, 1 - 20 / 740,
         "Calibration 12 BTU Material Comparison of Inverse Method",
         ha="center", va="center", fontsize=20.3, fontweight="bold",
         family=["Lato", "DejaVu Sans"], color="#111111")
fig.text(548 / 1013, 1 - 57 / 740, "Calculated Heat Flux",
         ha="center", va="center", fontsize=20.3, fontweight="bold",
         family=["Lato", "DejaVu Sans"], color="#111111")

# legend with frame
frame = Rectangle((607 / 1013, 1 - 677 / 740), 390 / 1013, 129 / 740,
                  transform=fig.transFigure, facecolor="white",
                  edgecolor="#7F7F7F", linewidth=1.0, zorder=3)
fig.add_artist(frame)
handles = [Line2D([], [], color="black", linewidth=2.4, linestyle=(0, (4.2, 2.6)))]
for c in series_colors:
    handles.append(Line2D([], [], color=c, marker="o", linestyle="none", markersize=2.6,
                          markeredgewidth=0))
labels = ["SB3265"] + series_names
fig.legend(handles, labels, loc="upper left",
           bbox_to_anchor=(648 / 1013, 1 - 553 / 740), bbox_transform=fig.transFigure,
           frameon=False, fontsize=13.3, handlelength=1.7, handletextpad=0.75,
           labelspacing=0.44, borderpad=0, borderaxespad=0)

fig.savefig("out.png", dpi=100)
